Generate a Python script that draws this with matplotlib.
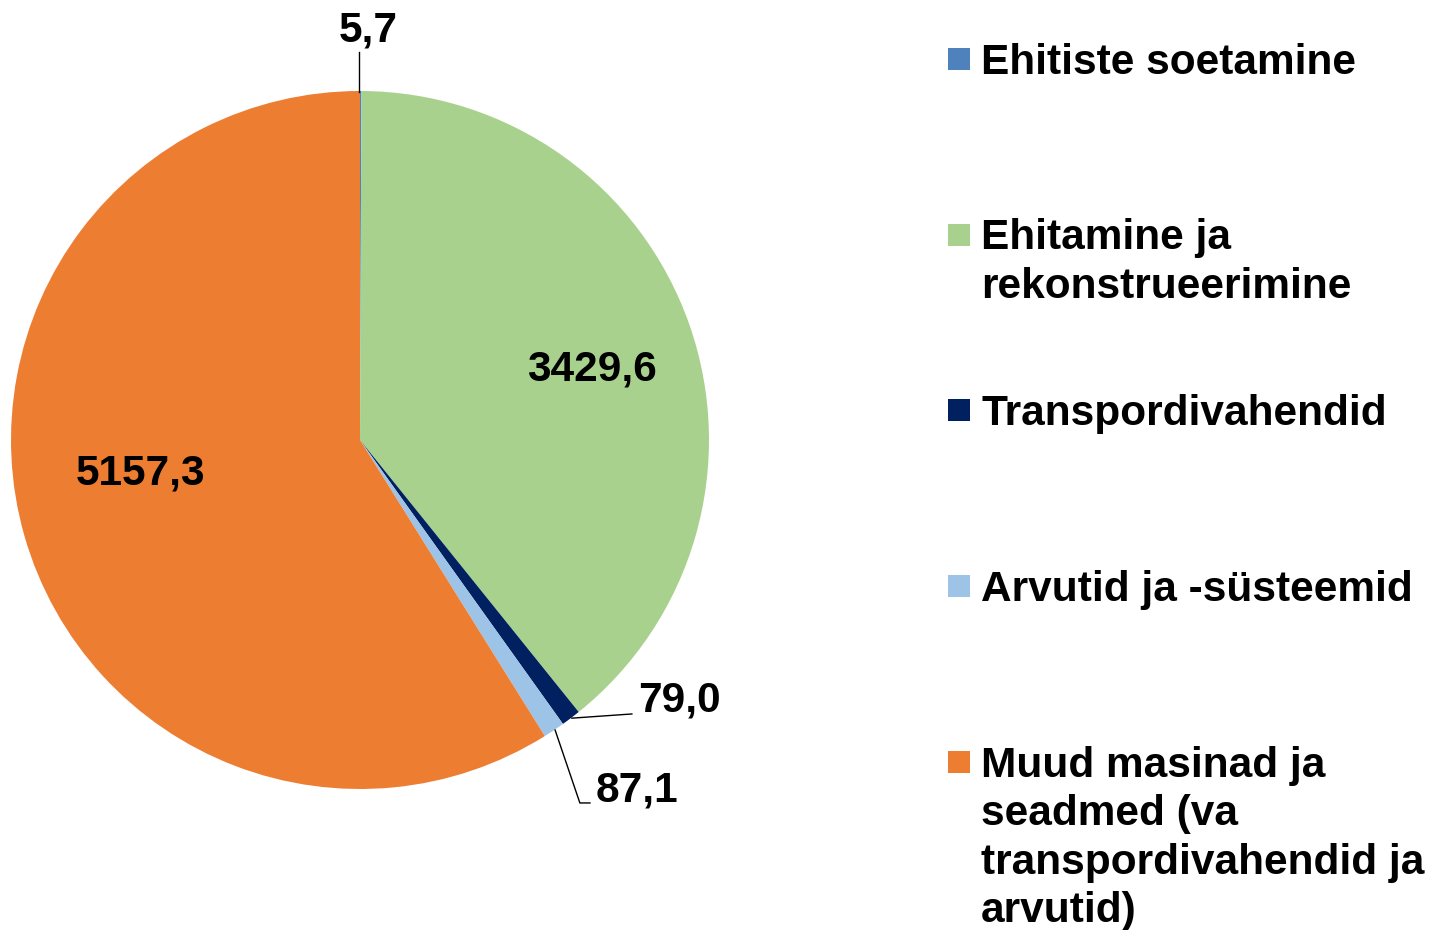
import matplotlib
matplotlib.use("Agg")
import matplotlib.pyplot as plt
from matplotlib.patches import Rectangle

categories = ["Ehitiste soetamine", "Ehitamine ja\nrekonstrueerimine", "Transpordivahendid",
              "Arvutid ja -süsteemid",
              "Muud masinad ja\nseadmed (va\ntranspordivahendid ja\narvutid)"]
values = [5.7, 3429.6, 79.0, 87.1, 5157.3]
value_labels = ["5,7", "3429,6", "79,0", "87,1", "5157,3"]
colors = ["#4F81BD", "#A9D18E", "#002060", "#9DC3E6", "#ED7D31"]

W, H = 1429, 930
fig = plt.figure(figsize=(W / 100, H / 100), dpi=100)
plt.rcParams['font.family'] = ['Liberation Sans', 'DejaVu Sans']

cx, cy, r = 360, 440, 349
ax = fig.add_axes([(cx - r) / W, (H - cy - r) / H, 2 * r / W, 2 * r / H])
ax.pie(values, colors=colors, startangle=90, counterclock=False, radius=1,
       wedgeprops=dict(linewidth=0))
ax.set_xlim(-1, 1)
ax.set_ylim(-1, 1)
ax.set_aspect("equal")
ax.axis("off")

fs = 30.5
kw = dict(fontsize=fs, fontweight="bold", color="black", clip_on=False)
# inside labels
ax.text(0.665, 0.203, value_labels[1], ha="center", va="center", **kw)
ax.text(-0.63, -0.097, value_labels[4], ha="center", va="center", **kw)
# outside labels with leader lines
lk = dict(color="black", lw=1.0, clip_on=False)
ax.plot([-0.003, -0.003], [0.997, 1.112], **lk)
ax.text(0.023, 1.172, value_labels[0], ha="center", va="center", **kw)
ax.plot([0.607, 0.779], [-0.797, -0.785], **lk)
ax.text(0.797, -0.745, value_labels[2], ha="left", va="center", **kw)
ax.plot([0.559, 0.630, 0.659], [-0.831, -1.040, -1.040], **lk)
ax.text(0.676, -1.003, value_labels[3], ha="left", va="center", **kw)

# legend
first_y = [59, 235, 410, 586, 762]
line_h = 48.5
for cat, col, y0 in zip(categories, colors, first_y):
    fig.patches.append(Rectangle((948 / W, 1 - (y0 + 11) / H), 22 / W, 22 / H,
                                 transform=fig.transFigure, facecolor=col, edgecolor="none"))
    for i, line in enumerate(cat.split("\n")):
        yb = y0 + i * line_h + 14.5
        fig.text(981 / W, 1 - yb / H, line, ha="left", va="baseline",
                 fontsize=fs, fontweight="bold", color="black")

fig.savefig("out.png", dpi=100)
